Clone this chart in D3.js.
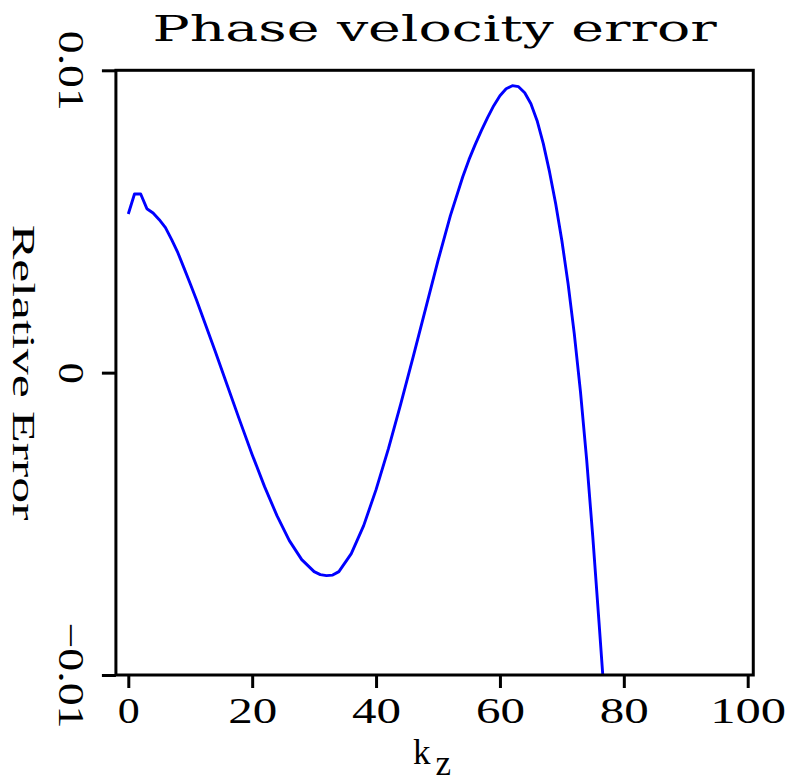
<!DOCTYPE html>
<html>
<head>
<meta charset="utf-8">
<script src="https://cdn.jsdelivr.net/npm/d3@7"></script>
<style>
  html, body { margin: 0; padding: 0; background: #fff; }
  svg { display: block; }
</style>
</head>
<body>
<svg id="chart" width="787" height="782"></svg>
<script>
// ---- data ----
const kz = [0, 1, 2, 3, 4, 5, 6, 7, 8, 9, 10, 11, 12, 14, 16, 18, 20, 22, 24, 26, 28, 30, 31, 32, 33, 34, 36, 38, 40, 42, 44, 46, 48, 50, 52, 54, 55, 56, 57, 58, 59, 60, 61, 62, 63, 64, 65, 66, 67, 68, 69, 70, 71, 72, 73, 74, 75, 76, 77];
const relErr = [0.005248, 0.005909, 0.005909, 0.005423, 0.005281, 0.005060, 0.004795, 0.004398, 0.003968, 0.003456, 0.002943, 0.002414, 0.001852, 0.000728, -0.000430, -0.001587, -0.002712, -0.003770, -0.004729, -0.005556, -0.006184, -0.006581, -0.006680, -0.006713, -0.006696, -0.006581, -0.005985, -0.005060, -0.003869, -0.002513, -0.001025, 0.000529, 0.002116, 0.003704, 0.005192, 0.006481, 0.007044, 0.007540, 0.008003, 0.008433, 0.008829, 0.009160, 0.009392, 0.009491, 0.009458, 0.009259, 0.008895, 0.008333, 0.007573, 0.006647, 0.005589, 0.004365, 0.002943, 0.001290, -0.000628, -0.002877, -0.005456, -0.008267, -0.011144];
const xTicks = [0, 20, 40, 60, 80, 100];
const xTickLabels = ["0", "20", "40", "60", "80", "100"];
const yTicks = [-0.01, 0, 0.01];
const yTickLabels = ["\u22120.01", "0", "0.01"];
const titleText = "Phase velocity error";
const yLabelText = "Relative Error";
const xLabelMain = "k";
const xLabelSub = "z";

(function () {
  const svg = d3.select("#chart");
  const x = d3.scaleLinear().domain([0, 100]).range([128.3, 747.7]);
  const y = d3.scaleLinear().domain([-0.01, 0.01]).range([675, 70.3]);
  const pLeft = x(-2), pRight = x(100.9), pTop = y(0.01), pBottom = y(-0.01);
  const tickFont = "'Liberation Serif', 'DejaVu Serif', serif";

  svg.append("defs").append("clipPath").attr("id", "clip")
    .append("rect").attr("x", pLeft).attr("y", pTop)
    .attr("width", pRight - pLeft).attr("height", pBottom - pTop);

  const pts = kz.map((k, i) => [k, relErr[i]]);
  svg.append("path")
    .datum(pts)
    .attr("clip-path", "url(#clip)")
    .attr("fill", "none")
    .attr("stroke", "#0000ff")
    .attr("stroke-width", 2.9)
    .attr("stroke-linejoin", "round")
    .attr("d", d3.line().x(d => x(d[0])).y(d => y(d[1])));

  const xAxis = svg.append("g").attr("transform", `translate(0,${pBottom})`)
    .call(d3.axisBottom(x).tickValues(xTicks).tickSize(13)
      .tickFormat((d, i) => xTickLabels[i]));
  xAxis.select(".domain").remove();
  xAxis.selectAll(".tick line").attr("stroke", "#000").attr("stroke-width", 3);
  xAxis.selectAll(".tick text")
    .attr("y", 48).attr("dy", 0)
    .attr("fill", "#000")
    .style("font-family", tickFont).style("font-size", "35px")
    .attr("textLength", (d, i) => xTickLabels[i].length * 27 - 5)
    .attr("lengthAdjust", "spacingAndGlyphs");

  const yAxis = svg.append("g").attr("transform", `translate(${pLeft},0)`)
    .call(d3.axisLeft(y).tickValues(yTicks).tickSize(14)
      .tickFormat((d, i) => yTickLabels[i]));
  yAxis.select(".domain").remove();
  yAxis.selectAll(".tick line").attr("stroke", "#000").attr("stroke-width", 3);
  yAxis.selectAll(".tick text")
    .attr("x", null).attr("dy", null)
    .attr("transform", `translate(${59 - pLeft},0) rotate(90)`)
    .attr("text-anchor", "middle")
    .attr("fill", "#000")
    .style("font-family", tickFont).style("font-size", "35px")
    .attr("textLength", (d, i) => {
      const s = yTickLabels[i];
      return s === "0" ? 21 : (s.length === 4 ? 80 : 106);
    })
    .attr("lengthAdjust", "spacingAndGlyphs");

  svg.append("rect")
    .attr("x", pLeft).attr("y", pTop)
    .attr("width", pRight - pLeft).attr("height", pBottom - pTop)
    .attr("fill", "none").attr("stroke", "#000").attr("stroke-width", 3);

  svg.append("text")
    .attr("x", (pLeft + pRight) / 2).attr("y", 41)
    .attr("text-anchor", "middle")
    .style("font-family", "'DejaVu Serif', serif")
    .style("font-size", "35px")
    .attr("textLength", 564).attr("lengthAdjust", "spacingAndGlyphs")
    .text(titleText);

  svg.append("text")
    .attr("transform", `translate(13,${(pTop + pBottom) / 2}) rotate(90)`)
    .attr("text-anchor", "middle")
    .style("font-family", tickFont).style("font-size", "31px")
    .attr("textLength", 296).attr("lengthAdjust", "spacingAndGlyphs")
    .text(yLabelText);

  const xl = svg.append("text")
    .attr("x", 413).attr("y", 764)
    .style("font-family", tickFont).style("font-size", "35px");
  xl.append("tspan").text(xLabelMain);
  xl.append("tspan").attr("dx", 5).attr("dy", 11).text(xLabelSub);
})();
</script>
</body>
</html>
